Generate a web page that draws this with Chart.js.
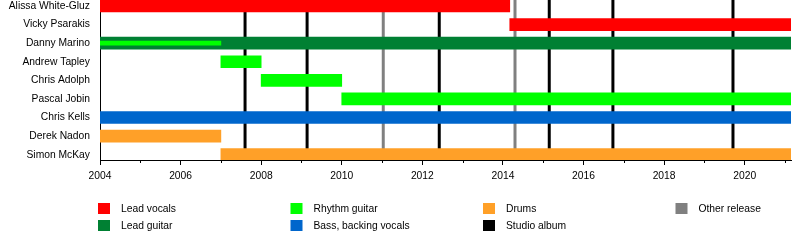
<!DOCTYPE html>
<html>
<head>
<meta charset="utf-8">
<script src="https://cdn.jsdelivr.net/npm/chart.js@4"></script>
<style>
  html, body { margin: 0; padding: 0; background: #fff; }
  #wrap { position: relative; width: 800px; height: 250px; }
</style>
</head>
<body>
<div id="wrap"><canvas id="timeline"></canvas></div>
<script>
// ====== Datos ======
const members = ['Alissa White-Gluz', 'Vicky Psarakis', 'Danny Marino', 'Andrew Tapley',
    'Chris Adolph', 'Pascal Jobin', 'Chris Kells', 'Derek Nadon', 'Simon McKay'];
const CHART_START = 2004;
const CHART_END = 2021.15;

// [fila, desde, hasta]
const leadVocals = [[0, 2004, 2014.17], [1, 2014.17, CHART_END]];
const leadGuitar = [[2, 2004, CHART_END]];
const rhythmGuitar = [[3, 2007, 2008], [4, 2008, 2010], [5, 2010, CHART_END]];
const rhythmGuitarSecondary = [[2, 2004, 2007]];
const bassVocals = [[6, 2004, CHART_END]];
const drums = [[7, 2004, 2007], [8, 2007, CHART_END]];

const studioAlbums = [2007.6, 2009.14, 2012.42, 2015.15, 2016.73, 2019.71];
const otherReleases = [2011.03, 2014.3];

const tickYears = [2004, 2005, 2006, 2007, 2008, 2009, 2010, 2011, 2012,
    2013, 2014, 2015, 2016, 2017, 2018, 2019, 2020, 2021];

const colors = {
    leadVocals: '#ff0000',
    leadGuitar: '#008033',
    rhythm: '#00ff00',
    bass: '#0066cc',
    drums: '#ffa028',
    studio: '#000000',
    other: '#808080'
};

// leyenda por columnas
const legendColumns = [
    [['Lead vocals', colors.leadVocals], ['Lead guitar', colors.leadGuitar]],
    [['Rhythm guitar', colors.rhythm], ['Bass, backing vocals', colors.bass]],
    [['Drums', colors.drums], ['Studio album', colors.studio]],
    [['Other release', colors.other]]
];

const FONT = '"Liberation Sans", Arial, Helvetica, sans-serif';
const FONT_SIZE = 10.3;
Chart.defaults.font.family = FONT;
Chart.defaults.font.size = FONT_SIZE;
Chart.defaults.color = '#000';

function toBars(list) {
    return list.map(([row, from, to]) => ({ y: row, x: [from, to] }));
}

function barSet(label, list, color, extra) {
    return Object.assign({
        label: label,
        data: toBars(list),
        backgroundColor: color,
        borderWidth: 0,
        barThickness: 12,
        grouped: false,
        order: 1
    }, extra || {});
}

// ====== Plugin: lineas de lanzamientos, ticks menores y leyenda ======
const timelineExtras = {
    id: 'timelineExtras',
    beforeDatasetsDraw(chart) {
        const { ctx, chartArea, scales: { x } } = chart;
        ctx.save();
        ctx.lineWidth = 3;
        const drawLines = (list, color) => {
            ctx.strokeStyle = color;
            list.forEach(v => {
                const px = x.getPixelForValue(v);
                ctx.beginPath();
                ctx.moveTo(px, chartArea.top);
                ctx.lineTo(px, chartArea.bottom);
                ctx.stroke();
            });
        };
        drawLines(otherReleases, colors.other);
        drawLines(studioAlbums, colors.studio);
        ctx.restore();
    },
    afterDraw(chart) {
        const { ctx, chartArea, scales: { x } } = chart;
        ctx.save();
        // ticks menores (años impares)
        ctx.strokeStyle = '#000';
        ctx.lineWidth = 1;
        tickYears.filter(v => v % 2 !== 0).forEach(v => {
            const px = Math.round(x.getPixelForValue(v)) + 0.5;
            ctx.beginPath();
            ctx.moveTo(px, chartArea.bottom);
            ctx.lineTo(px, chartArea.bottom + 3);
            ctx.stroke();
        });

        // leyenda
        ctx.font = FONT_SIZE + 'px ' + FONT;
        ctx.textBaseline = 'middle';
        ctx.textAlign = 'left';
        legendColumns.forEach((col, c) => {
            const left = 98 + c * 192.5;
            col.forEach(([text, color], r) => {
                const top = 203 + r * 17;
                ctx.fillStyle = color;
                ctx.fillRect(left, top, 12, 11);
                ctx.fillStyle = '#000';
                ctx.fillText(text, left + 23, top + 6);
            });
        });
        ctx.restore();
    }
};

const ctx = document.getElementById('timeline').getContext('2d');

new Chart(ctx, {
    type: 'bar',
    data: {
        datasets: [
            barSet('Rhythm guitar', rhythmGuitarSecondary, colors.rhythm, { barThickness: 4, order: 0 }),
            barSet('Lead vocals', leadVocals, colors.leadVocals),
            barSet('Lead guitar', leadGuitar, colors.leadGuitar),
            barSet('Rhythm guitar', rhythmGuitar, colors.rhythm),
            barSet('Bass, backing vocals', bassVocals, colors.bass),
            barSet('Drums', drums, colors.drums)
        ]
    },
    options: {
        indexAxis: 'y',
        responsive: true,
        maintainAspectRatio: false,
        animation: false,
        layout: { padding: { top: 0, right: 9, bottom: 0, left: 0 } },
        plugins: {
            legend: { display: false },
            tooltip: { enabled: false }
        },
        scales: {
            x: {
                type: 'linear',
                min: CHART_START,
                max: CHART_END,
                afterBuildTicks: (scale) => {
                    scale.ticks = tickYears.map(v => ({ value: v }));
                },
                afterFit: (scale) => {
                    scale.height = 90;
                    scale.paddingLeft = 0;
                    scale.paddingRight = 0;
                },
                ticks: {
                    autoSkip: false,
                    maxRotation: 0,
                    padding: 5,
                    color: '#000',
                    callback: (v) => (v % 2 === 0 ? String(v) : '')
                },
                grid: {
                    drawOnChartArea: false,
                    tickLength: 5,
                    tickColor: (c) => (c.tick && c.tick.value % 2 === 0 ? '#000' : 'rgba(0,0,0,0)')
                },
                border: { display: true, color: '#000', width: 1 }
            },
            y: {
                type: 'linear',
                reverse: true,
                offset: false,
                min: -0.3228,
                max: 8.285,
                afterBuildTicks: (scale) => {
                    scale.ticks = members.map((_, i) => ({ value: i }));
                },
                afterFit: (scale) => {
                    scale.width = 100;
                    scale.paddingTop = 0;
                    scale.paddingBottom = 0;
                },
                ticks: {
                    autoSkip: false,
                    padding: 10,
                    color: '#000',
                    callback: (v) => members[v] || ''
                },
                grid: { drawOnChartArea: false, drawTicks: false, offset: false },
                border: { display: true, color: '#000', width: 1 }
            }
        }
    },
    plugins: [timelineExtras]
});
</script>
</body>
</html>
